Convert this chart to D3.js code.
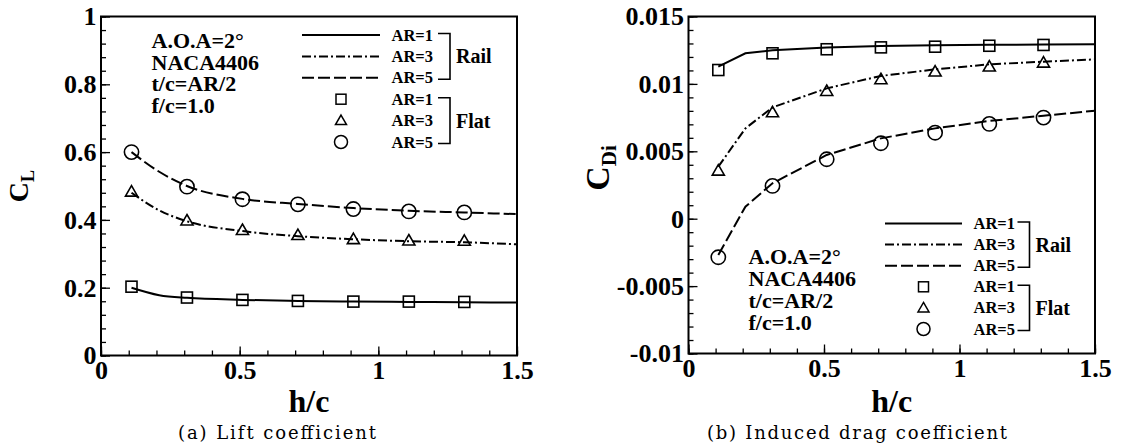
<!DOCTYPE html>
<html><head><meta charset="utf-8">
<script src="https://cdn.jsdelivr.net/npm/d3@7"></script>
<style>html,body{margin:0;padding:0;background:#fff}svg{display:block}</style>
</head><body>
<svg id="c" width="1121" height="448"></svg>
<script>
// ---------------- data ----------------
const hcFlat = [0.11, 0.31, 0.51, 0.71, 0.91, 1.11, 1.31];
const hcRail = [0.11, 0.21, 0.31, 0.51, 0.71, 0.91, 1.11, 1.31, 1.5];
const seriesNames = ["AR=1", "AR=3", "AR=5"];

// Lift coefficient CL
const clRailAR1 = [0.200, 0.178, 0.170, 0.164, 0.161, 0.159, 0.158, 0.157, 0.156];
const clRailAR3 = [0.480, 0.428, 0.396, 0.367, 0.352, 0.343, 0.337, 0.334, 0.328];
const clRailAR5 = [0.600, 0.542, 0.500, 0.462, 0.447, 0.435, 0.427, 0.422, 0.417];
const clFlatAR1 = [0.203, 0.171, 0.164, 0.161, 0.159, 0.159, 0.158];
const clFlatAR3 = [0.483, 0.398, 0.370, 0.355, 0.343, 0.339, 0.338];
const clFlatAR5 = [0.600, 0.498, 0.461, 0.446, 0.432, 0.425, 0.422];

// Induced drag coefficient CDi
const cdRailAR1 = [0.01128, 0.01227, 0.01250, 0.01270, 0.01282, 0.01287, 0.01290, 0.01292, 0.01294];
const cdRailAR3 = [0.00386, 0.00670, 0.00826, 0.00967, 0.01059, 0.01108, 0.01145, 0.01165, 0.01182];
const cdRailAR5 = [-0.00269, 0.00089, 0.00263, 0.00473, 0.00596, 0.00670, 0.00725, 0.00764, 0.00801];
const cdFlatAR1 = [0.01103, 0.01227, 0.01257, 0.01271, 0.01276, 0.01283, 0.01289];
const cdFlatAR3 = [0.00356, 0.00789, 0.00947, 0.01034, 0.01091, 0.01128, 0.01157];
const cdFlatAR5 = [-0.00286, 0.00243, 0.00441, 0.00560, 0.00638, 0.00703, 0.00750];

const xTickValues = [0, 0.5, 1, 1.5];
const xTickLabels = ["0", "0.5", "1", "1.5"];
const clTickValues = [0, 0.2, 0.4, 0.6, 0.8, 1];
const clTickLabels = ["0", "0.2", "0.4", "0.6", "0.8", "1"];
const cdTickValues = [-0.01, -0.005, 0, 0.005, 0.01, 0.015];
const cdTickLabels = ["-0.01", "-0.005", "0", "0.005", "0.01", "0.015"];
const xMinor = d3.range(0, 1.5001, 0.1);
const clMinor = d3.range(0, 1.0001, 0.04);
const cdMinor = d3.range(-0.01, 0.01501, 0.001);

const annotation = ["A.O.A=2°", "NACA4406", "t/c=AR/2", "f/c=1.0"];
const groupNames = ["Rail", "Flat"];
const captions = ["(a)  Lift coefficient", "(b)  Induced drag coefficient"];

// ---------------- drawing ----------------
const svg = d3.select("#c");
svg.append("rect").attr("width", 1121).attr("height", 448).attr("fill", "#fff");
const FONT = "'Liberation Serif','Times New Roman',serif";
const dashes = [null, "9,3,2,3", "12,4"];

function marker(g, k, cx, cy, s) {
  if (k === 0) {
    g.append("rect").attr("x", cx - s / 2).attr("y", cy - s / 2).attr("width", s).attr("height", s);
  } else if (k === 1) {
    const h = s * 0.95;
    g.append("path").attr("d", `M${cx},${cy - h * 0.58}L${cx + s * 0.55},${cy + h * 0.42}L${cx - s * 0.55},${cy + h * 0.42}Z`);
  } else {
    g.append("circle").attr("cx", cx).attr("cy", cy).attr("r", s * 0.62);
  }
}

function panel(o) {
  const g = svg.append("g");
  const x = d3.scaleLinear().domain([0, 1.5]).range(o.xr);
  const y = d3.scaleLinear().domain(o.yd).range(o.yr);

  // minor ticks
  g.append("g").attr("transform", `translate(0,${o.yr[0]})`)
    .call(d3.axisBottom(x).tickValues(o.xMinor).tickSize(-5).tickFormat(""))
    .call(s => s.select(".domain").remove());
  g.append("g").attr("transform", `translate(${o.xr[0]},0)`)
    .call(d3.axisLeft(y).tickValues(o.yMinor).tickSize(-5).tickFormat(""))
    .call(s => s.select(".domain").remove());
  // major ticks + labels
  const ax = g.append("g").attr("transform", `translate(0,${o.yr[0]})`)
    .call(d3.axisBottom(x).tickValues(xTickValues).tickSize(-9).tickPadding(5.5)
      .tickFormat((d, i) => xTickLabels[i]));
  const ay = g.append("g").attr("transform", `translate(${o.xr[0]},0)`)
    .call(d3.axisLeft(y).tickValues(o.yTicks).tickSize(-9).tickPadding(4.5)
      .tickFormat((d, i) => o.yLabels[i]));
  [ax, ay].forEach(a => {
    a.select(".domain").remove();
    a.selectAll("text").attr("font-family", FONT).attr("font-weight", "bold")
      .attr("font-size", 26).attr("fill", "#000");
  });
  g.selectAll(".tick line").attr("stroke", "#000").attr("stroke-width", 1.3);

  // frame
  g.append("rect").attr("x", o.xr[0]).attr("y", o.yr[1])
    .attr("width", o.xr[1] - o.xr[0]).attr("height", o.yr[0] - o.yr[1])
    .attr("fill", "none").attr("stroke", "#000").attr("stroke-width", 2);

  // lines
  const line = d3.line().x((d, i) => x(hcRail[i])).y(d => y(d)).curve(o.curve);
  o.rail.forEach((arr, k) => {
    g.append("path").attr("d", line(arr)).attr("fill", "none").attr("stroke", "#000")
      .attr("stroke-width", 2).attr("stroke-dasharray", dashes[k]);
  });
  // markers
  o.flat.forEach((arr, k) => {
    const mg = g.append("g").attr("fill", "none").attr("stroke", "#000").attr("stroke-width", 1.6);
    arr.forEach((v, i) => marker(mg, k, x(hcFlat[i]), y(v), k === 2 ? 11.5 : 11));
  });

  // axis titles
  g.append("text").attr("x", (o.xr[0] + o.xr[1]) / 2).attr("y", 412)
    .attr("text-anchor", "middle").attr("font-family", FONT).attr("font-weight", "bold")
    .attr("font-size", 32).text("h/c");
  const yt = g.append("text").attr("transform", `translate(${o.ylab.x},${o.ylab.y}) rotate(-90)`)
    .attr("text-anchor", "middle").attr("font-family", FONT).attr("font-weight", "bold")
    .attr("font-size", o.ylab.fs);
  yt.append("tspan").text("C");
  yt.append("tspan").attr("font-size", o.ylab.fs2).attr("dy", o.ylab.dy).text(o.ylab.sub);

  // annotation
  annotation.forEach((t, i) => {
    g.append("text").attr("x", o.ann.x).attr("y", o.ann.y + i * o.ann.dy)
      .attr("font-family", FONT).attr("font-weight", "bold").attr("font-size", 22).text(t);
  });

  // legend
  const L = o.leg;
  const lg = g.append("g");
  for (let k = 0; k < 3; k++) {
    const yy = L.y0 + k * L.dy;
    lg.append("line").attr("x1", L.lx0).attr("x2", L.lx1).attr("y1", yy).attr("y2", yy)
      .attr("stroke", "#000").attr("stroke-width", 2).attr("stroke-dasharray", dashes[k]);
    lg.append("text").attr("x", L.tx).attr("y", yy + 5.5).attr("font-family", FONT)
      .attr("font-weight", "bold").attr("font-size", 16.5).text(seriesNames[k]);
  }
  for (let k = 0; k < 3; k++) {
    const yy = L.y0 + (k + 3) * L.dy;
    const mg = lg.append("g").attr("fill", "none").attr("stroke", "#000").attr("stroke-width", 1.5);
    marker(mg, k, (L.lx0 + L.lx1) / 2, yy, k === 2 ? 10.5 : 10);
    lg.append("text").attr("x", L.tx).attr("y", yy + 5.5).attr("font-family", FONT)
      .attr("font-weight", "bold").attr("font-size", 16.5).text(seriesNames[k]);
  }
  [0, 1].forEach(gi => {
    const ya = L.y0 + gi * 3 * L.dy - 1.5, yb = L.y0 + (gi * 3 + 2) * L.dy + 1.5;
    lg.append("path").attr("d", `M${L.bx - 12},${ya}H${L.bx}V${yb}H${L.bx - 12}`)
      .attr("fill", "none").attr("stroke", "#000").attr("stroke-width", 1.6);
    lg.append("text").attr("x", L.bx + 6).attr("y", (ya + yb) / 2 + 7).attr("font-family", FONT)
      .attr("font-weight", "bold").attr("font-size", 20).text(groupNames[gi]);
  });

  // caption
  g.append("text").attr("x", o.cap.x).attr("y", 439).attr("font-family", "'DejaVu Serif',serif")
    .attr("font-size", 18).attr("textLength", o.cap.w).attr("lengthAdjust", "spacing")
    .text(o.cap.t);
}

panel({
  xr: [101, 517], yd: [0, 1], yr: [355.5, 16.5],
  yTicks: clTickValues, yLabels: clTickLabels, xMinor: xMinor, yMinor: clMinor,
  rail: [clRailAR1, clRailAR3, clRailAR5], flat: [clFlatAR1, clFlatAR3, clFlatAR5],
  curve: d3.curveMonotoneX,
  ylab: { x: 28, y: 186, fs: 28, fs2: 18, dy: 6, sub: "L" },
  ann: { x: 151.5, y: 48, dy: 21.7 },
  leg: { y0: 35, dy: 21.4, lx0: 302, lx1: 380, tx: 391.5, bx: 450 },
  cap: { x: 178, w: 198, t: captions[0] }
});
panel({
  xr: [688.5, 1095], yd: [-0.01, 0.015], yr: [353.5, 16.5],
  yTicks: cdTickValues, yLabels: cdTickLabels, xMinor: xMinor, yMinor: cdMinor,
  rail: [cdRailAR1, cdRailAR3, cdRailAR5], flat: [cdFlatAR1, cdFlatAR3, cdFlatAR5],
  curve: d3.curveLinear,
  ylab: { x: 609, y: 168, fs: 34, fs2: 21, dy: 7, sub: "Di" },
  ann: { x: 748.5, y: 263.5, dy: 22 },
  leg: { y0: 223.5, dy: 21.1, lx0: 885, lx1: 962, tx: 973.5, bx: 1029.5 },
  cap: { x: 707, w: 300, t: captions[1] }
});
</script>
</body></html>
